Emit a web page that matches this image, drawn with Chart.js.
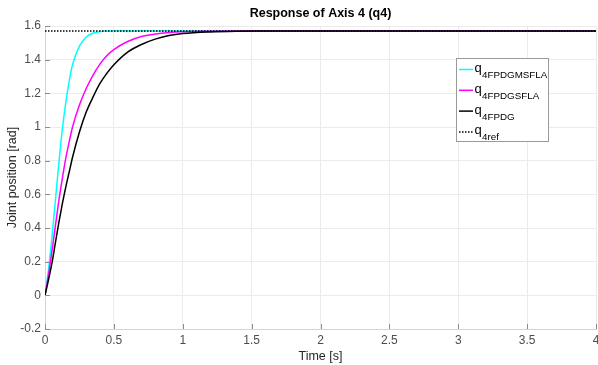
<!DOCTYPE html>
<html>
<head>
<meta charset="utf-8">
<script src="https://cdn.jsdelivr.net/npm/chart.js@4/dist/chart.umd.min.js"></script>
<style>
  html, body { margin: 0; padding: 0; background: #fff; }
  #wrap { width: 598px; height: 365px; }
</style>
</head>
<body>
<div id="wrap"><canvas id="responseChart"></canvas></div>
<script>
// time axis [s] and joint position [rad]
const timeS = [0, 0.025, 0.05, 0.075, 0.1, 0.125, 0.15, 0.175, 0.2, 0.25, 0.3, 0.35, 0.4, 0.45, 0.5,
  0.6, 0.7, 0.8, 0.9, 1.0, 1.2, 1.4, 1.6, 1.8, 2.0, 2.5, 3.0, 3.5, 4.0];
const qMSFLA = [0, 0.15, 0.34, 0.56, 0.78, 0.98, 1.14, 1.27, 1.37, 1.48, 1.535, 1.558, 1.567, 1.570, 1.5708,
  1.5708, 1.5708, 1.5708, 1.5708, 1.5708, 1.5708, 1.5708, 1.5708, 1.5708, 1.5708, 1.5708, 1.5708, 1.5708, 1.5708];
const qSFLA = [0, 0.12, 0.26, 0.41, 0.56, 0.69, 0.81, 0.91, 1.00, 1.13, 1.23, 1.31, 1.375, 1.425, 1.46,
  1.508, 1.538, 1.552, 1.561, 1.566, 1.569, 1.5705, 1.5708, 1.5708, 1.5708, 1.5708, 1.5708, 1.5708, 1.5708];
const qFPDG = [0, 0.09, 0.19, 0.31, 0.43, 0.54, 0.64, 0.73, 0.82, 0.97, 1.09, 1.18, 1.26, 1.32, 1.37,
  1.445, 1.49, 1.522, 1.543, 1.555, 1.565, 1.569, 1.5703, 1.5707, 1.5708, 1.5708, 1.5708, 1.5708, 1.5708];
const refTime = [0, 4];
const qRef = [1.5708, 1.5708];

const seriesSubs = ['4FPDGMSFLA', '4FPDGSFLA', '4FPDG', '4ref'];
const seriesColors = ['#00ffff', '#ff00ff', '#000000', '#000000'];

const xTicks = { min: 0, max: 4, step: 0.5 };
const yTicks = { min: -0.2, max: 1.6, step: 0.2 };

const FONT = '"Liberation Sans", Arial, Helvetica, sans-serif';

function toPoints(xs, ys) {
  return xs.map((x, i) => ({ x: x, y: ys[i] }));
}

function fmt(v) {
  return String(Number(v.toFixed(2)));
}

// MATLAB style ticks pointing into the axes
const innerTicks = {
  id: 'innerTicks',
  afterDraw(chart) {
    const { ctx, chartArea } = chart;
    const xs = chart.scales.x, ys = chart.scales.y;
    ctx.save();
    ctx.strokeStyle = '#8c8c8c';
    ctx.lineWidth = 1;
    ctx.beginPath();
    xs.ticks.forEach(t => {
      const px = Math.round(xs.getPixelForValue(t.value)) + 0.5;
      ctx.moveTo(px, chartArea.bottom);
      ctx.lineTo(px, chartArea.bottom - 5);
    });
    ys.ticks.forEach(t => {
      const py = Math.round(ys.getPixelForValue(t.value)) + 0.5;
      ctx.moveTo(chartArea.left, py);
      ctx.lineTo(chartArea.left + 5, py);
    });
    ctx.stroke();
    ctx.restore();
  }
};

// legend box with subscripted names
const subLegend = {
  id: 'subLegend',
  afterDraw(chart) {
    const ctx = chart.ctx;
    const bx = 456.5, by = 58.5, bw = 92, bh = 83;
    ctx.save();
    ctx.fillStyle = '#ffffff';
    ctx.fillRect(bx, by, bw, bh);
    ctx.strokeStyle = '#9a9a9a';
    ctx.lineWidth = 1;
    ctx.strokeRect(bx, by, bw, bh);
    chart.data.datasets.forEach((ds, i) => {
      const ry = 69.5 + i * 20.8;
      ctx.beginPath();
      ctx.strokeStyle = ds.borderColor;
      ctx.lineWidth = 1.5;
      ctx.setLineDash(ds.borderDash || []);
      ctx.moveTo(459, ry);
      ctx.lineTo(473, ry);
      ctx.stroke();
      ctx.setLineDash([]);
      ctx.fillStyle = '#000';
      ctx.textBaseline = 'alphabetic';
      ctx.font = '13px ' + FONT;
      ctx.fillText('q', 474.5, ry + 2.5);
      ctx.font = '9.8px ' + FONT;
      ctx.fillText(seriesSubs[i], 482, ry + 8.5);
    });
    ctx.restore();
  }
};

const chart = new Chart(document.getElementById('responseChart'), {
  type: 'line',
  data: {
    datasets: [
      { label: 'q' + seriesSubs[0], data: toPoints(timeS, qMSFLA), borderColor: seriesColors[0], order: 4 },
      { label: 'q' + seriesSubs[1], data: toPoints(timeS, qSFLA), borderColor: seriesColors[1], order: 3 },
      { label: 'q' + seriesSubs[2], data: toPoints(timeS, qFPDG), borderColor: seriesColors[2], order: 2 },
      { label: 'q' + seriesSubs[3], data: toPoints(refTime, qRef), borderColor: seriesColors[3], borderDash: [1.5, 1.5], order: 1 }
    ]
  },
  options: {
    responsive: true,
    maintainAspectRatio: false,
    animation: false,
    layout: { padding: { left: 0, right: 2, top: 0, bottom: 0 } },
    elements: {
      point: { radius: 0 },
      line: { borderWidth: 1.5, cubicInterpolationMode: 'monotone', fill: false }
    },
    plugins: {
      legend: { display: false },
      tooltip: { enabled: false },
      title: {
        display: true,
        fullSize: false,
        text: 'Response of Axis 4 (q4)',
        color: '#000',
        font: { family: FONT, size: 12.5, weight: 'bold' },
        padding: { top: 6, bottom: 5 }
      }
    },
    scales: {
      x: {
        type: 'linear',
        min: xTicks.min,
        max: xTicks.max,
        afterFit: s => { s.height = 36; s.paddingRight = 0; s.paddingLeft = 0; },
        ticks: {
          stepSize: xTicks.step,
          color: '#4d4d4d',
          padding: 4,
          maxRotation: 0,
          font: { family: FONT, size: 12 },
          callback: v => fmt(v)
        },
        grid: { color: '#ebebeb', drawTicks: false },
        border: { color: '#d4d4d4' },
        title: {
          display: true,
          text: 'Time [s]',
          color: '#262626',
          font: { family: FONT, size: 12.5 },
          padding: { top: 0, bottom: 1 }
        }
      },
      y: {
        min: yTicks.min,
        max: yTicks.max,
        afterFit: s => { s.width = 45; },
        ticks: {
          stepSize: yTicks.step,
          color: '#4d4d4d',
          padding: 4,
          font: { family: FONT, size: 12 },
          callback: v => fmt(v)
        },
        grid: { color: '#ebebeb', drawTicks: false },
        border: { color: '#d4d4d4' },
        title: {
          display: true,
          text: 'Joint position [rad]',
          color: '#262626',
          font: { family: FONT, size: 12.5 },
          padding: { top: 5, bottom: 0 }
        }
      }
    }
  },
  plugins: [innerTicks, subLegend]
});
</script>
</body>
</html>
